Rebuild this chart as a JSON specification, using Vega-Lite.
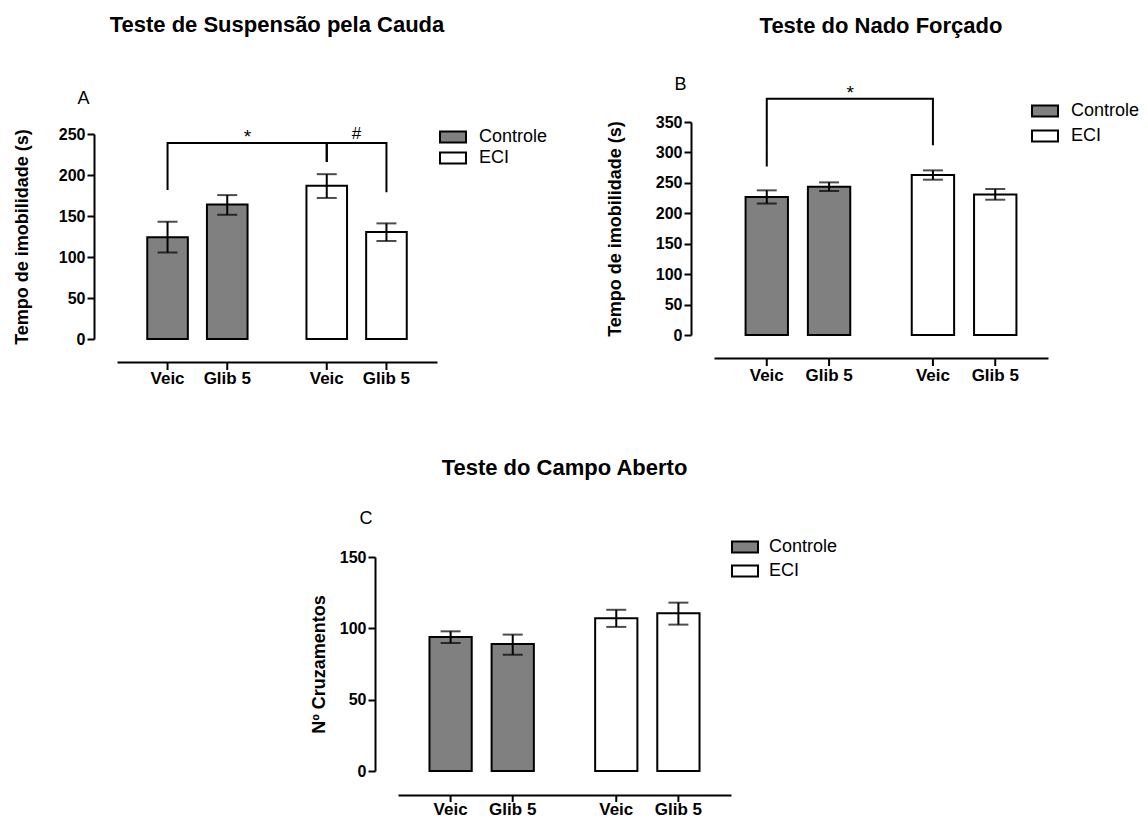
{
"$schema": "https://vega.github.io/schema/vega-lite/v6.json",
"background": "white",
"padding": {"left": 13, "top": 14, "right": 0, "bottom": 0},
"config": {
  "font": "Liberation Sans",
  "view": {"stroke": null},
  "axis": {"grid": false, "domainColor": "black", "tickColor": "black", "labelColor": "black", "titleColor": "black", "domainWidth": 2, "tickWidth": 2, "labelOverlap": false},
  "legend": {"labelColor": "black"},
  "title": {"color": "black"}
},
"datasets": {
  "bars": [
    {"p": "A", "g": "Controle", "t": "Veic", "m": 124, "lo": 105.5, "hi": 143},
    {"p": "A", "g": "Controle", "t": "Glib 5", "m": 164, "lo": 151.5, "hi": 175.5},
    {"p": "A", "g": "ECI", "t": "Veic", "m": 187, "lo": 172, "hi": 201},
    {"p": "A", "g": "ECI", "t": "Glib 5", "m": 130.5, "lo": 119.5, "hi": 141},
    {"p": "B", "g": "Controle", "t": "Veic", "m": 226.7, "lo": 216, "hi": 237.7},
    {"p": "B", "g": "Controle", "t": "Glib 5", "m": 243.7, "lo": 236.6, "hi": 250.8},
    {"p": "B", "g": "ECI", "t": "Veic", "m": 263, "lo": 255.2, "hi": 270.5},
    {"p": "B", "g": "ECI", "t": "Glib 5", "m": 231, "lo": 222.3, "hi": 239.9},
    {"p": "C", "g": "Controle", "t": "Veic", "m": 94, "lo": 89.7, "hi": 97.9},
    {"p": "C", "g": "Controle", "t": "Glib 5", "m": 89, "lo": 81.5, "hi": 95.6},
    {"p": "C", "g": "ECI", "t": "Veic", "m": 107, "lo": 101, "hi": 113},
    {"p": "C", "g": "ECI", "t": "Glib 5", "m": 110.5, "lo": 102.6, "hi": 118}
  ],
  "brk": [
    {"p": "A", "id": "a1", "o": 1, "g": "Controle", "t": "Veic", "y": 181.7},
    {"p": "A", "id": "a1", "o": 2, "g": "Controle", "t": "Veic", "y": 239},
    {"p": "A", "id": "a1", "o": 3, "g": "ECI", "t": "Veic", "y": 239},
    {"p": "A", "id": "a1", "o": 4, "g": "ECI", "t": "Veic", "y": 216},
    {"p": "A", "id": "a2", "o": 1, "g": "ECI", "t": "Veic", "y": 216},
    {"p": "A", "id": "a2", "o": 2, "g": "ECI", "t": "Veic", "y": 239},
    {"p": "A", "id": "a2", "o": 3, "g": "ECI", "t": "Glib 5", "y": 239},
    {"p": "A", "id": "a2", "o": 4, "g": "ECI", "t": "Glib 5", "y": 179},
    {"p": "B", "id": "b1", "o": 1, "g": "Controle", "t": "Veic", "y": 277},
    {"p": "B", "id": "b1", "o": 2, "g": "Controle", "t": "Veic", "y": 388},
    {"p": "B", "id": "b1", "o": 3, "g": "ECI", "t": "Veic", "y": 388},
    {"p": "B", "id": "b1", "o": 4, "g": "ECI", "t": "Veic", "y": 311.6}
  ],
  "notes": [
    {"p": "A", "g": "Controle", "y": 239, "s": "*"},
    {"p": "A", "g": "ECI", "y": 239, "s": "#"},
    {"p": "B", "g": "Controle", "y": 388, "s": "*"}
  ]
},
"vconcat": [
  {
    "hconcat": [
      {
        "width": 320, "height": 205,
        "title": {"text": "Teste de Suspensão pela Cauda", "fontSize": 22, "fontWeight": "bold", "anchor": "middle", "frame": "group", "offset": 52},
        "layer": [
          {"data": {"name": "bars"}, "transform": [{"filter": "datum.p === 'A'"}],
           "mark": {"type": "bar", "stroke": "black", "strokeWidth": 2},
           "encoding": {
             "x": {"field": "g", "type": "nominal", "scale": {"domain": ["Controle", "ECI"], "paddingInner": 0.37, "paddingOuter": 0.19},
                   "axis": {"labels": false, "ticks": false, "offset": 23, "title": "A", "titleX": -40, "titleY": -259, "titleAngle": 0, "titleAlign": "left", "titleBaseline": "alphabetic", "titleFontSize": 18, "titleFontWeight": "normal"}},
             "xOffset": {"field": "t", "type": "nominal", "scale": {"domain": ["Veic", "Glib 5"], "paddingInner": 0.32, "paddingOuter": 0}},
             "y": {"field": "m", "type": "quantitative", "scale": {"domain": [0, 250], "nice": false},
                   "axis": {"title": "Tempo de imobilidade (s)", "values": [0, 50, 100, 150, 200, 250], "tickCount": 6, "offset": 23, "tickSize": 7, "labelPadding": 2, "labelFontSize": 16, "labelFontWeight": "bold", "titleFontSize": 18, "titleFontWeight": "bold", "titlePadding": 27}},
             "fill": {"field": "g", "type": "nominal", "scale": {"domain": ["Controle", "ECI"], "range": ["#808080", "#ffffff"]},
                      "legend": {"title": null, "orient": "none", "legendX": 325, "legendY": -8, "symbolType": "M-1.3,-0.55H1.3V0.55H-1.3Z", "symbolSize": 400, "symbolStrokeColor": "black", "symbolStrokeWidth": 2, "symbolOpacity": 1, "labelFontSize": 18, "labelOffset": 15, "rowPadding": 0}}
           }},
          {"data": {"name": "bars"}, "transform": [{"filter": "datum.p === 'A'"}],
           "mark": {"type": "rule", "color": "black", "strokeWidth": 2},
           "encoding": {"x": {"field": "g", "type": "nominal"}, "xOffset": {"field": "t", "type": "nominal"}, "y": {"field": "lo", "type": "quantitative"}, "y2": {"field": "hi"}}},
          {"data": {"name": "bars"}, "transform": [{"filter": "datum.p === 'A'"}],
           "mark": {"type": "tick", "color": "black", "size": 20, "thickness": 2},
           "encoding": {"x": {"field": "g", "type": "nominal"}, "xOffset": {"field": "t", "type": "nominal"}, "y": {"field": "hi", "type": "quantitative"}}},
          {"data": {"name": "bars"}, "transform": [{"filter": "datum.p === 'A'"}],
           "mark": {"type": "tick", "color": "black", "size": 20, "thickness": 2},
           "encoding": {"x": {"field": "g", "type": "nominal"}, "xOffset": {"field": "t", "type": "nominal"}, "y": {"field": "lo", "type": "quantitative"}}},
          {"data": {"name": "bars"}, "transform": [{"filter": "datum.p === 'A'"}],
           "mark": {"type": "text", "baseline": "top", "yOffset": 32, "fontSize": 17, "fontWeight": "bold", "color": "black"},
           "encoding": {"x": {"field": "g", "type": "nominal"}, "xOffset": {"field": "t", "type": "nominal"}, "y": {"datum": 0}, "text": {"field": "t"}}},
          {"data": {"name": "bars"}, "transform": [{"filter": "datum.p === 'A'"}],
           "mark": {"type": "rule", "color": "black", "strokeWidth": 2, "yOffset": 23, "y2Offset": 31},
           "encoding": {"x": {"field": "g", "type": "nominal"}, "xOffset": {"field": "t", "type": "nominal"}, "y": {"datum": 0}, "y2": {"datum": 0}}},
          {"data": {"name": "brk"}, "transform": [{"filter": "datum.p === 'A'"}],
           "mark": {"type": "line", "color": "black", "strokeWidth": 2},
           "encoding": {"x": {"field": "g", "type": "nominal"}, "xOffset": {"field": "t", "type": "nominal"}, "y": {"field": "y", "type": "quantitative"}, "detail": {"field": "id"}, "order": {"field": "o"}}},
          {"data": {"name": "notes"}, "transform": [{"filter": "datum.p === 'A' && datum.s === '*'"}],
           "mark": {"type": "text", "baseline": "alphabetic", "dy": 0, "fontSize": 19, "color": "black"},
           "encoding": {"x": {"field": "g", "type": "nominal", "bandPosition": 1}, "y": {"field": "y", "type": "quantitative"}, "text": {"field": "s"}}},
          {"data": {"name": "notes"}, "transform": [{"filter": "datum.p === 'A' && datum.s === '#'"}],
           "mark": {"type": "text", "baseline": "alphabetic", "dy": -4, "fontSize": 17, "color": "black"},
           "encoding": {"x": {"field": "g", "type": "nominal", "bandPosition": 0.5}, "y": {"field": "y", "type": "quantitative"}, "text": {"field": "s"}}}
        ]
      },
      {
        "width": 334, "height": 201,
        "title": {"text": "Teste do Nado Forçado", "fontSize": 22, "fontWeight": "bold", "anchor": "middle", "frame": "group", "offset": 37},
        "layer": [
          {"data": {"name": "bars"}, "transform": [{"filter": "datum.p === 'B'"}],
           "mark": {"type": "bar", "stroke": "black", "strokeWidth": 2},
           "encoding": {
             "x": {"field": "g", "type": "nominal", "scale": {"domain": ["Controle", "ECI"], "paddingInner": 0.37, "paddingOuter": 0.19},
                   "axis": {"labels": false, "ticks": false, "offset": 23, "title": "B", "titleX": -40, "titleY": -269, "titleAngle": 0, "titleAlign": "left", "titleBaseline": "alphabetic", "titleFontSize": 18, "titleFontWeight": "normal"}},
             "xOffset": {"field": "t", "type": "nominal", "scale": {"domain": ["Veic", "Glib 5"], "paddingInner": 0.32, "paddingOuter": 0}},
             "y": {"field": "m", "type": "quantitative", "scale": {"domain": [0, 350], "nice": false, "range": [201, -12]},
                   "axis": {"title": "Tempo de imobilidade (s)", "values": [0, 50, 100, 150, 200, 250, 300, 350], "tickCount": 8, "offset": 23, "tickSize": 7, "labelPadding": 2, "labelFontSize": 16, "labelFontWeight": "bold", "titleFontSize": 18, "titleFontWeight": "bold", "titlePadding": 31}},
             "fill": {"field": "g", "type": "nominal", "scale": {"domain": ["Controle", "ECI"], "range": ["#808080", "#ffffff"]},
                      "legend": {"title": null, "orient": "none", "legendX": 320, "legendY": -34, "symbolType": "M-1.3,-0.55H1.3V0.55H-1.3Z", "symbolSize": 400, "symbolStrokeColor": "black", "symbolStrokeWidth": 2, "symbolOpacity": 1, "labelFontSize": 18, "labelOffset": 15, "rowPadding": 4}}
           }},
          {"data": {"name": "bars"}, "transform": [{"filter": "datum.p === 'B'"}],
           "mark": {"type": "rule", "color": "black", "strokeWidth": 2},
           "encoding": {"x": {"field": "g", "type": "nominal"}, "xOffset": {"field": "t", "type": "nominal"}, "y": {"field": "lo", "type": "quantitative"}, "y2": {"field": "hi"}}},
          {"data": {"name": "bars"}, "transform": [{"filter": "datum.p === 'B'"}],
           "mark": {"type": "tick", "color": "black", "size": 20, "thickness": 2},
           "encoding": {"x": {"field": "g", "type": "nominal"}, "xOffset": {"field": "t", "type": "nominal"}, "y": {"field": "hi", "type": "quantitative"}}},
          {"data": {"name": "bars"}, "transform": [{"filter": "datum.p === 'B'"}],
           "mark": {"type": "tick", "color": "black", "size": 20, "thickness": 2},
           "encoding": {"x": {"field": "g", "type": "nominal"}, "xOffset": {"field": "t", "type": "nominal"}, "y": {"field": "lo", "type": "quantitative"}}},
          {"data": {"name": "bars"}, "transform": [{"filter": "datum.p === 'B'"}],
           "mark": {"type": "text", "baseline": "top", "yOffset": 33, "fontSize": 17, "fontWeight": "bold", "color": "black"},
           "encoding": {"x": {"field": "g", "type": "nominal"}, "xOffset": {"field": "t", "type": "nominal"}, "y": {"datum": 0}, "text": {"field": "t"}}},
          {"data": {"name": "bars"}, "transform": [{"filter": "datum.p === 'B'"}],
           "mark": {"type": "rule", "color": "black", "strokeWidth": 2, "yOffset": 23, "y2Offset": 31},
           "encoding": {"x": {"field": "g", "type": "nominal"}, "xOffset": {"field": "t", "type": "nominal"}, "y": {"datum": 0}, "y2": {"datum": 0}}},
          {"data": {"name": "brk"}, "transform": [{"filter": "datum.p === 'B'"}],
           "mark": {"type": "line", "color": "black", "strokeWidth": 2},
           "encoding": {"x": {"field": "g", "type": "nominal"}, "xOffset": {"field": "t", "type": "nominal"}, "y": {"field": "y", "type": "quantitative"}, "detail": {"field": "id"}, "order": {"field": "o"}}},
          {"data": {"name": "notes"}, "transform": [{"filter": "datum.p === 'B'"}],
           "mark": {"type": "text", "baseline": "alphabetic", "dy": 0, "fontSize": 19, "color": "black"},
           "encoding": {"x": {"field": "g", "type": "nominal", "bandPosition": 1}, "y": {"field": "y", "type": "quantitative"}, "text": {"field": "s"}}}
        ]
      }
    ],
    "spacing": 58,
    "resolve": {"scale": {"x": "independent", "y": "independent", "xOffset": "independent", "fill": "independent"}, "axis": {"x": "independent", "y": "independent"}, "legend": {"fill": "independent"}}
  },
  {
    "width": 333, "height": 214,
    "title": {"text": "Teste do Campo Aberto", "fontSize": 22, "fontWeight": "bold", "anchor": "middle", "frame": "group", "offset": 29},
    "layer": [
      {"data": {"name": "bars"}, "transform": [{"filter": "datum.p === 'C'"}],
       "mark": {"type": "bar", "stroke": "black", "strokeWidth": 2},
       "encoding": {
         "x": {"field": "g", "type": "nominal", "scale": {"domain": ["Controle", "ECI"], "paddingInner": 0.37, "paddingOuter": 0.19},
               "axis": {"labels": false, "ticks": false, "offset": 24, "title": "C", "titleX": -39, "titleY": -272, "titleAngle": 0, "titleAlign": "left", "titleBaseline": "alphabetic", "titleFontSize": 18, "titleFontWeight": "normal"}},
         "xOffset": {"field": "t", "type": "nominal", "scale": {"domain": ["Veic", "Glib 5"], "paddingInner": 0.32, "paddingOuter": 0}},
         "y": {"field": "m", "type": "quantitative", "scale": {"domain": [0, 150], "nice": false},
               "axis": {"title": "Nº Cruzamentos", "values": [0, 50, 100, 150], "tickCount": 4, "offset": 23, "tickSize": 7, "labelPadding": 2, "labelFontSize": 16, "labelFontWeight": "bold", "titleFontSize": 18, "titleFontWeight": "bold", "titlePadding": 11}},
         "fill": {"field": "g", "type": "nominal", "scale": {"domain": ["Controle", "ECI"], "range": ["#808080", "#ffffff"]},
                  "legend": {"title": null, "orient": "none", "legendX": 315, "legendY": -42, "padding": 21, "symbolType": "M-1.3,-0.55H1.3V0.55H-1.3Z", "symbolSize": 400, "symbolStrokeColor": "black", "symbolStrokeWidth": 2, "symbolOpacity": 1, "labelFontSize": 18, "labelOffset": 13, "rowPadding": 3}}
       }},
      {"data": {"name": "bars"}, "transform": [{"filter": "datum.p === 'C'"}],
       "mark": {"type": "rule", "color": "black", "strokeWidth": 2},
       "encoding": {"x": {"field": "g", "type": "nominal"}, "xOffset": {"field": "t", "type": "nominal"}, "y": {"field": "lo", "type": "quantitative"}, "y2": {"field": "hi"}}},
      {"data": {"name": "bars"}, "transform": [{"filter": "datum.p === 'C'"}],
       "mark": {"type": "tick", "color": "black", "size": 20, "thickness": 2},
       "encoding": {"x": {"field": "g", "type": "nominal"}, "xOffset": {"field": "t", "type": "nominal"}, "y": {"field": "hi", "type": "quantitative"}}},
      {"data": {"name": "bars"}, "transform": [{"filter": "datum.p === 'C'"}],
       "mark": {"type": "tick", "color": "black", "size": 20, "thickness": 2},
       "encoding": {"x": {"field": "g", "type": "nominal"}, "xOffset": {"field": "t", "type": "nominal"}, "y": {"field": "lo", "type": "quantitative"}}},
      {"data": {"name": "bars"}, "transform": [{"filter": "datum.p === 'C'"}],
       "mark": {"type": "text", "baseline": "top", "yOffset": 31, "fontSize": 17, "fontWeight": "bold", "color": "black"},
       "encoding": {"x": {"field": "g", "type": "nominal"}, "xOffset": {"field": "t", "type": "nominal"}, "y": {"datum": 0}, "text": {"field": "t"}}},
      {"data": {"name": "bars"}, "transform": [{"filter": "datum.p === 'C'"}],
       "mark": {"type": "rule", "color": "black", "strokeWidth": 2, "yOffset": 24, "y2Offset": 31},
       "encoding": {"x": {"field": "g", "type": "nominal"}, "xOffset": {"field": "t", "type": "nominal"}, "y": {"datum": 0}, "y2": {"datum": 0}}}
    ]
  }
],
"spacing": 70,
"center": true,
"resolve": {"scale": {"x": "independent", "y": "independent", "xOffset": "independent", "fill": "independent"}, "axis": {"x": "independent", "y": "independent"}, "legend": {"fill": "independent"}}
}
